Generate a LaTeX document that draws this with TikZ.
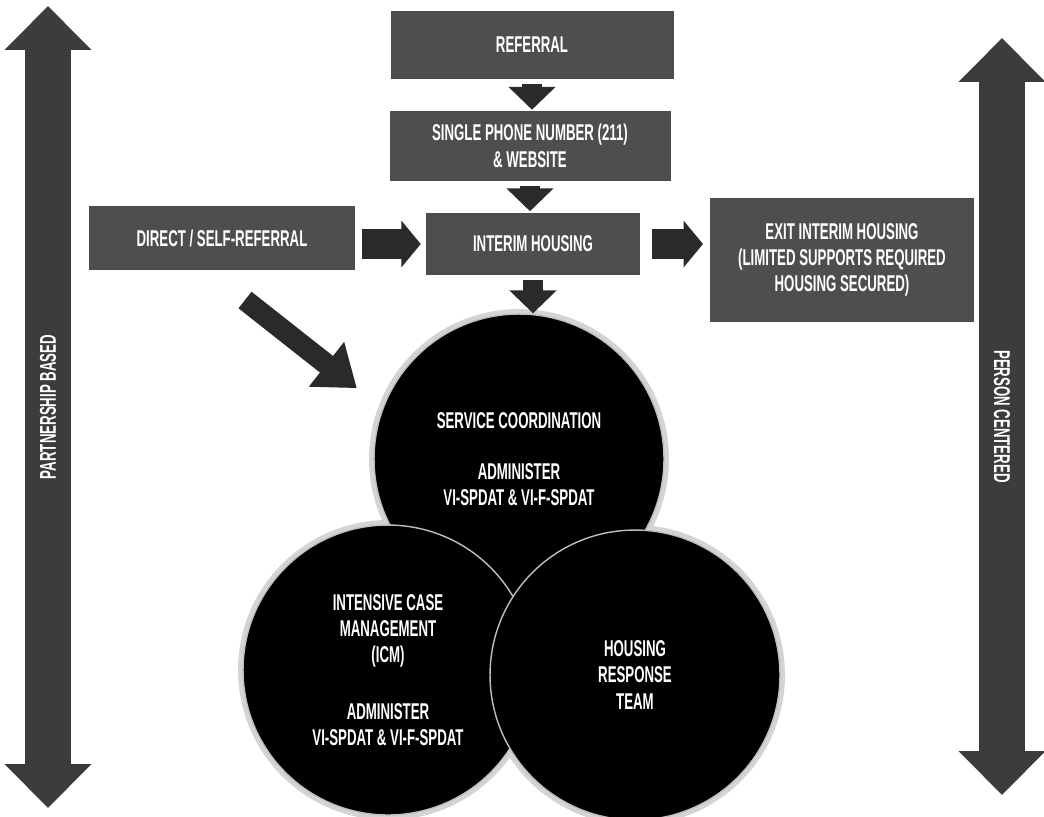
\documentclass[tikz,border=0pt]{standalone}
\usepackage{fontspec}
\setmainfont{Liberation Sans}[FakeStretch=0.58]
\usepackage{tikz}
\usetikzlibrary{
  arrows.meta,
  positioning,
  calc
}
\definecolor{boxgray}{HTML}{4E4E4E}
\definecolor{arrgray}{HTML}{2A2A2A}
\definecolor{sidegray}{HTML}{3C3C3C}
\definecolor{haloclr}{HTML}{D4D4D4}

\begin{document}
\begin{tikzpicture}[x=0.02cm, y=-0.02cm,
  txt/.style={font=\fontsize{13}{15}\selectfont\bfseries, text=white, align=center},
  box/.style={txt, fill=boxgray, draw=black!70, line width=0.6pt, inner sep=2pt},
  disc/.style={txt, circle, fill=black, draw=white!75!black, line width=0.8pt,
               minimum size=5.8cm, inner sep=0pt},
  halo/.style={circle, fill=haloclr, minimum size=6.0cm, inner sep=0pt},
  blockarr/.style={arrgray, line width=11pt, -{Triangle[length=13pt, width=26pt]}},
  widearr/.style={arrgray, line width=17pt, -{Triangle[length=11pt, width=26pt]}},
  diagarr/.style={arrgray, line width=12pt, -{Triangle[length=22pt, width=31pt]}},
  sidearr/.style={sidegray, line width=26pt,
                  {Triangle[length=25pt, width=48pt]}-{Triangle[length=25pt, width=48pt]}},
]
  \useasboundingbox (0,0) rectangle (1044,816);

  % Intake column
  \node[box, minimum width=5.64cm, minimum height=1.32cm] (referral) at (532,45) {REFERRAL};
  \node[box, minimum width=5.6cm, minimum height=1.36cm] (phone) at (530,146)
    {SINGLE PHONE NUMBER (211)\\\& WEBSITE};
  \node[box, minimum width=4.26cm, minimum height=1.22cm] (interim) at (533,244) {INTERIM HOUSING};
  \node[box, minimum width=5.3cm, minimum height=1.26cm] (direct) at (222,238) {DIRECT / SELF-REFERRAL};
  \node[box, minimum width=5.26cm, minimum height=2.46cm] (exit) at (842,260)
    {EXIT INTERIM HOUSING\\(LIMITED SUPPORTS REQUIRED\\HOUSING SECURED)};

  % Service circles
  \node[halo] at (519,459) {};
  \node[halo] at (388,670) {};
  \node[halo] at (635,675) {};
  \node[disc] (svc) at (519,459)
    {SERVICE COORDINATION\\[14pt]ADMINISTER\\VI-SPDAT \& VI-F-SPDAT};
  \node[disc] (icm) at (388,670)
    {INTENSIVE CASE\\MANAGEMENT\\(ICM)\\[17pt]ADMINISTER\\VI-SPDAT \& VI-F-SPDAT};
  \node[disc] (hrt) at (635,675) {HOUSING\\RESPONSE\\TEAM};

  % Flow arrows
  \draw[blockarr, shorten <=3pt, shorten >=1pt] (referral.south) -- (referral.south |- phone.north);
  \draw[blockarr, shorten <=3pt, shorten >=1pt] (phone.south) -- (phone.south |- interim.north);
  \draw[blockarr, shorten <=3pt] (interim.south) -- (interim.south |- svc.north);
  \draw[widearr, shorten <=4pt, shorten >=3pt] (direct.east |- interim) -- (interim.west);
  \draw[widearr, shorten <=7pt, shorten >=4pt] (interim.east) -- (exit.west |- interim);
  \draw[diagarr] ([shift={(23,30)}]direct.south) -- ([shift={(-36,2)}]svc.150);

  % Side scales
  \coordinate (pbBot) at (48,808);
  \coordinate (pbTop) at (48,6);
  \draw[sidearr] (pbBot) -- (pbTop) node[midway, rotate=90, txt] {PARTNERSHIP BASED};
  \coordinate (pcTop) at (1002,38);
  \coordinate (pcBot) at (1002,795);
  \draw[sidearr] (pcTop) -- (pcBot) node[midway, rotate=-90, txt] {PERSON CENTERED};
\end{tikzpicture}
\end{document}
